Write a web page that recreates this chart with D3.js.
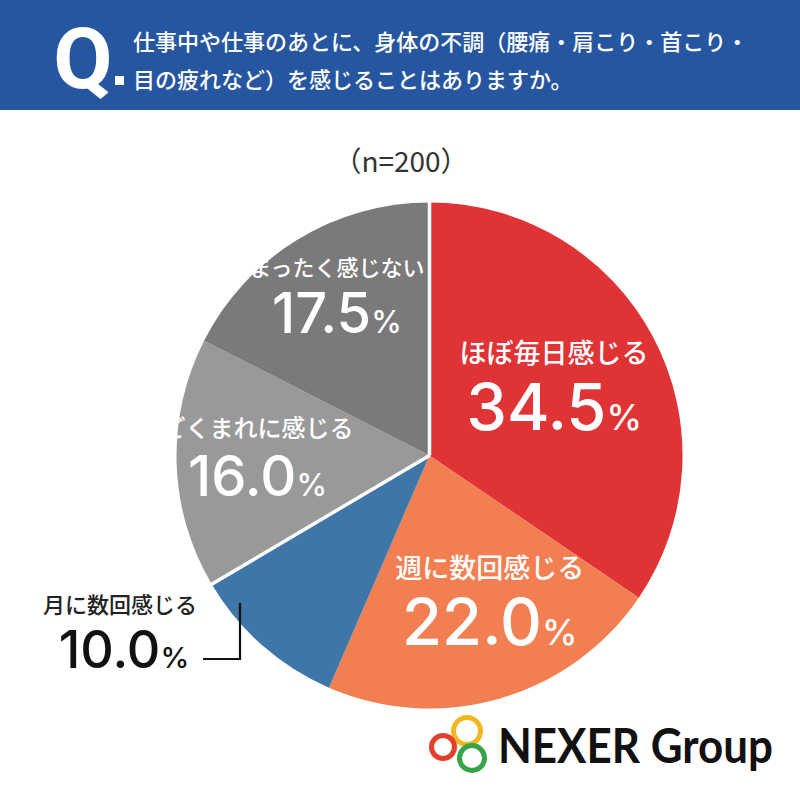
<!DOCTYPE html>
<html>
<head>
<meta charset="utf-8">
<script src="https://cdn.jsdelivr.net/npm/d3@7"></script>
<style>
  body { margin: 0; background: #fff; }
  svg { display: block; }
</style>
</head>
<body>
<div id="container"></div>
<script>
// chart data
const categories = ["ほぼ毎日感じる", "週に数回感じる", "月に数回感じる", "ごくまれに感じる", "まったく感じない"];
const values = [34.5, 22.0, 10.0, 16.0, 17.5];
const colors = ["#e03335", "#f17f51", "#3e76a8", "#999999", "#7a7a7a"];
const sampleLabel = "（n=200）";
const questionLines = [
  "仕事中や仕事のあとに、身体の不調（腰痛・肩こり・首こり・",
  "目の疲れなど）を感じることはありますか。"
];

// label layout per slice (radius of label centre, x nudge, font sizes)
const labelLayout = [
  { r: 141, dx: 0, cat: 27, num: 65, inside: true },
  { r: 155, dx: 17, cat: 27, num: 65, inside: true },
  { inside: false },
  { r: 172, dx: 0, cat: 24, num: 56, inside: true },
  { r: 185, dx: 4, cat: 22, num: 56, inside: true }
];

const width = 800;
const height = 795;
const cx = 429.5;
const cy = 455.5;
const radius = 253;

const jp = "'Noto Sans CJK JP', 'Noto Sans', sans-serif";
const num = "Inter, 'Noto Sans', sans-serif";

const svg = d3.create("svg")
    .attr("width", width)
    .attr("height", height)
    .attr("viewBox", [0, 0, width, height]);

svg.append("rect").attr("width", width).attr("height", height).attr("fill", "#fff");

// header band
svg.append("rect")
    .attr("width", width).attr("height", 110)
    .attr("fill", "#2756a0");

svg.append("text")
    .attr("x", 83).attr("y", 88)
    .attr("text-anchor", "middle")
    .attr("font-family", "'Liberation Sans Narrow', 'Roboto', sans-serif")
    .attr("font-weight", 700)
    .attr("font-size", 86)
    .attr("fill", "#fff")
    .text("Q");

svg.append("rect")
    .attr("x", 115).attr("y", 76).attr("width", 9).attr("height", 9)
    .attr("fill", "#fff");

svg.append("g")
  .selectAll("text")
  .data(questionLines)
  .join("text")
    .attr("x", 133)
    .attr("y", (d, i) => 50 + i * 38)
    .attr("font-family", jp)
    .attr("font-weight", 500)
    .attr("font-size", 22)
    .attr("fill", "#fff")
    .text(d => d);

svg.append("text")
    .attr("x", 401).attr("y", 172)
    .attr("text-anchor", "middle")
    .attr("font-family", jp)
    .attr("font-size", 28)
    .attr("fill", "#333")
    .text(sampleLabel);

// pie
const data = categories.map((c, i) => ({ category: c, value: values[i], color: colors[i], layout: labelLayout[i] }));

const pie = d3.pie().sort(null).value(d => d.value);
const arcs = pie(data);
const arc = d3.arc().innerRadius(0).outerRadius(radius);

const g = svg.append("g").attr("transform", `translate(${cx},${cy})`);

g.selectAll("path")
  .data(arcs)
  .join("path")
    .attr("d", arc)
    .attr("fill", d => d.data.color);

// white separators (top and between monthly / rarely)
const sepAngles = [arcs[0].startAngle, arcs[3].startAngle];
g.selectAll("line.sep")
  .data(sepAngles)
  .join("line")
    .attr("class", "sep")
    .attr("x1", 0).attr("y1", 0)
    .attr("x2", a => (radius + 2) * Math.sin(a))
    .attr("y2", a => -(radius + 2) * Math.cos(a))
    .attr("stroke", "#fff")
    .attr("stroke-width", 3.5);

// inside labels
const inside = arcs.filter(d => d.data.layout.inside);
const lab = g.selectAll("g.lab")
  .data(inside)
  .join("g")
    .attr("class", "lab")
    .attr("transform", d => {
      const a = (d.startAngle + d.endAngle) / 2;
      const r = d.data.layout.r;
      return `translate(${r * Math.sin(a) + d.data.layout.dx},${-r * Math.cos(a)})`;
    });

lab.append("text")
    .attr("text-anchor", "middle")
    .attr("y", d => -d.data.layout.cat * 0.98)
    .attr("font-family", jp)
    .attr("font-weight", 500)
    .attr("font-size", d => d.data.layout.cat)
    .attr("fill", "#fff")
    .text(d => d.data.category);

const numText = lab.append("text")
    .attr("text-anchor", "middle")
    .attr("y", d => d.data.layout.num * 0.63)
    .attr("font-family", num)
    .attr("font-weight", 500)
    .attr("fill", "#fff");
numText.append("tspan")
    .attr("font-size", d => d.data.layout.num)
    .text(d => d.data.value.toFixed(1));
numText.append("tspan")
    .attr("font-size", d => d.data.layout.num * 0.55)
    .text("%");

// outside label for the small blue slice
const blue = arcs[2];
svg.append("text")
    .attr("x", 120).attr("y", 613)
    .attr("text-anchor", "middle")
    .attr("font-family", jp)
    .attr("font-weight", 500)
    .attr("font-size", 22)
    .attr("fill", "#222")
    .text(blue.data.category);

const outNum = svg.append("text")
    .attr("x", 124).attr("y", 668)
    .attr("text-anchor", "middle")
    .attr("font-family", num)
    .attr("font-weight", 500)
    .attr("fill", "#111");
outNum.append("tspan").attr("font-size", 52).text(blue.data.value.toFixed(1));
outNum.append("tspan").attr("font-size", 29).text("%");

svg.append("path")
    .attr("d", "M203,659H240V603")
    .attr("fill", "none")
    .attr("stroke", "#111")
    .attr("stroke-width", 2.2);

// logo
const logo = svg.append("g");
[["#f1b71f", 467, 731, 13.5], ["#e23f2c", 443, 747, 11.5], ["#36a447", 472, 758, 12.5]].forEach(([c, x, y, r]) => {
  logo.append("circle")
      .attr("cx", x).attr("cy", y).attr("r", r)
      .attr("fill", "none")
      .attr("stroke", c)
      .attr("stroke-width", 5);
});
logo.append("text")
    .attr("x", 498).attr("y", 763)
    .attr("font-family", "Lato, Inter, sans-serif")
    .attr("font-weight", 700)
    .attr("font-size", 48)
    .attr("textLength", 275)
    .attr("lengthAdjust", "spacingAndGlyphs")
    .attr("fill", "#111")
    .text("NEXER Group");

container.append(svg.node());
</script>
</body>
</html>
